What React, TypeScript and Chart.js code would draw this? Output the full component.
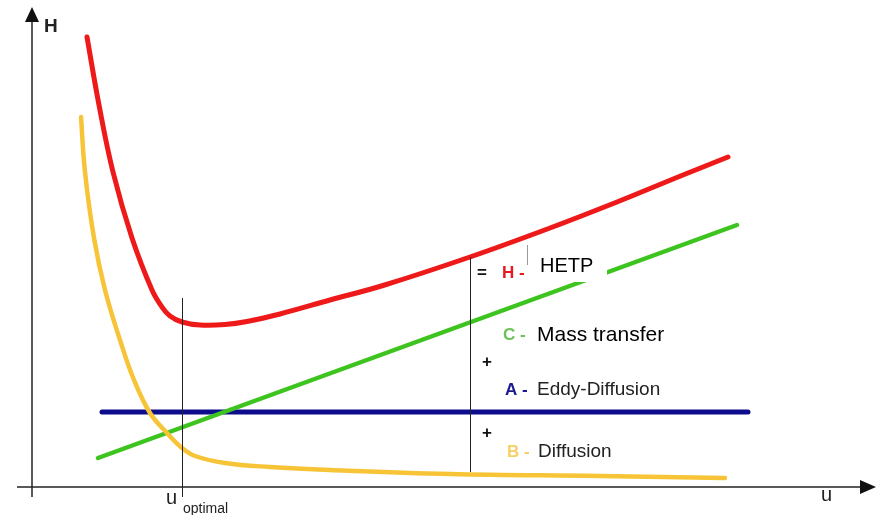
import React, { useEffect, useRef } from "react";
import { Chart, registerables } from "chart.js";

Chart.register(...registerables);

// H (HETP) curve: u vs H
const hetpU = [5.5, 6.7, 8.1, 10, 12, 13, 13.8, 15, 16.8, 19.3, 21.5, 24.8, 29.8, 35.1, 43.8, 51.8, 58.5, 65.1, 69.6];
const hetpH = [90, 76.4, 63, 49.8, 39.4, 36, 34.2, 33, 32.4, 32.5, 33.1, 34.6, 37.4, 40.3, 46, 51.8, 57, 62.4, 66];
// B - Diffusion term
const diffU = [4.9, 5.3, 6.2, 7.3, 8.8, 10.2, 11.8, 13.5, 15, 16.3, 19.3, 23.8, 29.8, 41.8, 56.8, 69.3];
const diffH = [74, 63, 49.8, 39.4, 29.4, 21.4, 14.8, 10.8, 7.8, 6.2, 4.8, 4, 3.4, 2.6, 2.2, 1.8];
// C - Mass transfer term
const massU = [6.6, 70.5];
const massH = [5.8, 52.4];
// A - Eddy diffusion term
const eddyU = [7, 71.6];
const eddyH = [15, 15];
// vertical guide lines
const guideU = [15, 43.8];
const guideTop = [37.8, 46];
const guideBottom = [-2, 3];

const toPts = (xs: number[], ys: number[]) => xs.map((x, i) => ({ x, y: ys[i] }));

const FONT = "'Liberation Sans', Arial, sans-serif";

const overlay = {
  id: "overlay",
  beforeDatasetsDraw(chart: any) {
    const ctx = chart.ctx;
    const xs = chart.scales.x;
    const ys = chart.scales.y;
    const x0 = xs.getPixelForValue(0);
    const y0 = ys.getPixelForValue(0);
    ctx.save();
    ctx.strokeStyle = "#222";
    ctx.fillStyle = "#111";
    ctx.lineWidth = 1.5;
    // x axis
    ctx.beginPath();
    ctx.moveTo(x0 - 15, y0);
    ctx.lineTo(chart.width - 16, y0);
    ctx.stroke();
    ctx.beginPath();
    ctx.moveTo(chart.width - 2, y0);
    ctx.lineTo(chart.width - 18, y0 - 7);
    ctx.lineTo(chart.width - 18, y0 + 7);
    ctx.closePath();
    ctx.fill();
    // y axis
    ctx.beginPath();
    ctx.moveTo(x0, y0 + 10);
    ctx.lineTo(x0, 20);
    ctx.stroke();
    ctx.beginPath();
    ctx.moveTo(x0, 7);
    ctx.lineTo(x0 - 7, 22);
    ctx.lineTo(x0 + 7, 22);
    ctx.closePath();
    ctx.fill();
    ctx.restore();
  },
  afterDatasetsDraw(chart: any) {
    const ctx = chart.ctx;
    const xs = chart.scales.x;
    const ys = chart.scales.y;
    ctx.save();
    // guide lines
    ctx.strokeStyle = "#222";
    ctx.lineWidth = 1;
    guideU.forEach((u, i) => {
      const px = Math.round(xs.getPixelForValue(u)) + 0.5;
      ctx.beginPath();
      ctx.moveTo(px, ys.getPixelForValue(guideTop[i]));
      ctx.lineTo(px, ys.getPixelForValue(guideBottom[i]));
      ctx.stroke();
    });

    // axis titles
    ctx.fillStyle = "#222";
    ctx.textBaseline = "alphabetic";
    ctx.font = `bold 19px ${FONT}`;
    ctx.fillText("H", 44, 32);
    ctx.font = `20px ${FONT}`;
    ctx.fillText("u", 821, 501);
    ctx.fillText("u", 166, 504);
    ctx.font = `14px ${FONT}`;
    ctx.fillText("optimal", 183, 513);

    // labels
    ctx.textBaseline = "middle";
    const bold = `bold 17px ${FONT}`;
    ctx.font = bold;
    ctx.fillStyle = "#111";
    ctx.fillText("=", 477, 273);
    ctx.fillStyle = "#e8191e";
    ctx.fillText("H -", 502, 273);

    ctx.fillStyle = "#ffffff";
    ctx.fillRect(527, 243, 80, 39);
    ctx.strokeStyle = "#999";
    ctx.beginPath();
    ctx.moveTo(527.5, 245);
    ctx.lineTo(527.5, 265);
    ctx.stroke();
    ctx.fillStyle = "#000";
    ctx.font = `20px ${FONT}`;
    ctx.fillText("HETP", 540, 266);

    ctx.font = bold;
    ctx.fillStyle = "#6cc25a";
    ctx.fillText("C -", 503, 335);
    ctx.fillStyle = "#000";
    ctx.font = `21px ${FONT}`;
    ctx.fillText("Mass transfer", 537, 335);

    ctx.font = bold;
    ctx.fillStyle = "#111";
    ctx.fillText("+", 482, 362);
    ctx.fillStyle = "#1a1a8e";
    ctx.fillText("A -", 505, 390);
    ctx.fillStyle = "#222";
    ctx.font = `19px ${FONT}`;
    ctx.fillText("Eddy-Diffusion", 537, 390);

    ctx.font = bold;
    ctx.fillStyle = "#111";
    ctx.fillText("+", 482, 433);
    ctx.fillStyle = "#f6d067";
    ctx.fillText("B -", 507, 452);
    ctx.fillStyle = "#222";
    ctx.font = `19px ${FONT}`;
    ctx.fillText("Diffusion", 538, 452);
    ctx.restore();
  },
};

export default function App() {
  const ref = useRef<HTMLCanvasElement | null>(null);
  useEffect(() => {
    if (!ref.current) return;
    const common = {
      pointRadius: 0,
      fill: false,
      tension: 0.4,
      borderCapStyle: "round" as const,
      borderJoinStyle: "round" as const,
    };
    const chart = new Chart(ref.current, {
      type: "line",
      data: {
        datasets: [
          { ...common, label: "H", data: toPts(hetpU, hetpH), borderColor: "#ee1a1a", borderWidth: 5 },
          { ...common, label: "B", data: toPts(diffU, diffH), borderColor: "#f8c437", borderWidth: 4.5 },
          { ...common, label: "C", data: toPts(massU, massH), borderColor: "#3ec41e", borderWidth: 4.5 },
          { ...common, label: "A", data: toPts(eddyU, eddyH), borderColor: "#0c0c8c", borderWidth: 5 },
        ],
      },
      options: {
        animation: false,
        responsive: false,
        devicePixelRatio: 1,
        layout: { padding: { left: 32, right: 6, top: 12, bottom: 28 } },
        plugins: { legend: { display: false }, tooltip: { enabled: false } },
        scales: {
          x: { type: "linear", min: 0, max: 84, display: false },
          y: { type: "linear", min: 0, max: 95, display: false },
        },
      },
      plugins: [overlay],
    });
    return () => chart.destroy();
  }, []);
  return (
    <div style={{ position: "absolute", left: 0, top: 0, width: 878, height: 515, background: "#fff" }}>
      <canvas ref={ref} width={878} height={515} />
    </div>
  );
}
